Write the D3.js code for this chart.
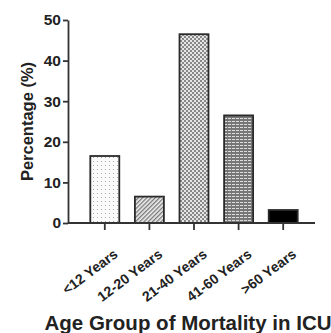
<!DOCTYPE html>
<html>
<head>
<meta charset="utf-8">
<script src="https://cdn.jsdelivr.net/npm/d3@7"></script>
<style>
  body { margin: 0; background: #fff; }
  text { font-family: "Liberation Sans", Arial, sans-serif; font-weight: bold; fill: #222; }
</style>
</head>
<body>
<div id="chart"></div>
<script>
const categories = ['<12 Years', '12-20 Years', '21-40 Years', '41-60 Years', '>60 Years'];
const values = [16.5, 6.5, 46.5, 26.5, 3.2];
const patterns = ['dots', 'hatch', 'check', 'brick', 'solid'];
const yTicks = [0, 10, 20, 30, 40, 50];

const width = 331, height = 333;
const margin = { top: 20, right: 11, bottom: 110, left: 68 };
const axisEnd = 315;

const svg = d3.select('#chart').append('svg')
  .attr('width', width)
  .attr('height', height);

// fill patterns
const defs = svg.append('defs');
const dots = defs.append('pattern').attr('id', 'dots')
  .attr('patternUnits', 'userSpaceOnUse').attr('width', 4).attr('height', 4);
dots.append('rect').attr('width', 4).attr('height', 4).attr('fill', '#fafafa');
dots.append('rect').attr('x', 1).attr('y', 1).attr('width', 1).attr('height', 1).attr('fill', '#aaa');

const hatch = defs.append('pattern').attr('id', 'hatch')
  .attr('patternUnits', 'userSpaceOnUse').attr('width', 3).attr('height', 3)
  .attr('patternTransform', 'rotate(45)');
hatch.append('rect').attr('width', 3).attr('height', 3).attr('fill', '#eee');
hatch.append('rect').attr('width', 1.3).attr('height', 3).attr('fill', '#777');

const check = defs.append('pattern').attr('id', 'check')
  .attr('patternUnits', 'userSpaceOnUse').attr('width', 4).attr('height', 4);
check.append('rect').attr('width', 4).attr('height', 4).attr('fill', '#e6e6e6');
check.append('rect').attr('width', 2).attr('height', 2).attr('fill', '#888');
check.append('rect').attr('x', 2).attr('y', 2).attr('width', 2).attr('height', 2).attr('fill', '#888');

const brick = defs.append('pattern').attr('id', 'brick')
  .attr('patternUnits', 'userSpaceOnUse').attr('width', 4).attr('height', 3);
brick.append('rect').attr('width', 4).attr('height', 3).attr('fill', '#777');
brick.append('rect').attr('x', 0).attr('y', 1).attr('width', 3).attr('height', 1).attr('fill', '#ddd');

const fillFor = p => p === 'solid' ? '#000' : `url(#${p})`;

const x = d3.scaleBand()
  .domain(categories)
  .range([margin.left, width - margin.right])
  .paddingInner(0.35)
  .paddingOuter(0.5);

const y = d3.scaleLinear()
  .domain([0, 50])
  .range([223, 20]);

svg.append('g')
  .selectAll('rect')
  .data(categories)
  .enter()
  .append('rect')
  .attr('x', d => x(d))
  .attr('y', (d, i) => y(values[i]))
  .attr('width', x.bandwidth())
  .attr('height', (d, i) => y(0) - y(values[i]))
  .attr('fill', (d, i) => fillFor(patterns[i]))
  .attr('stroke', '#2a2a2a')
  .attr('stroke-width', 1.8);

// y axis
const yAxis = svg.append('g')
  .attr('transform', `translate(${margin.left},0)`)
  .call(d3.axisLeft(y).tickValues(yTicks).tickSize(5).tickPadding(2).tickSizeOuter(0));
yAxis.selectAll('path, line').attr('stroke', '#333').attr('stroke-width', 1.8);
yAxis.selectAll('text').attr('font-size', 15.5).style('fill', '#222');

// x axis
const xAxis = svg.append('g')
  .attr('transform', `translate(0,${y(0)})`)
  .call(d3.axisBottom(x).tickSize(7).tickSizeOuter(0));
xAxis.select('.domain').attr('d', `M${margin.left},0H${axisEnd}`);
xAxis.selectAll('path, line').attr('stroke', '#333').attr('stroke-width', 1.8);
xAxis.selectAll('text')
  .attr('font-size', 14)
  .style('fill', '#222')
  .attr('text-anchor', 'end')
  .attr('dx', 0)
  .attr('dy', 0)
  .attr('transform', 'translate(8,25) rotate(-37)');

// titles
svg.append('text')
  .attr('transform', `translate(33,${(y(0) + y(50)) / 2}) rotate(-90)`)
  .attr('text-anchor', 'middle')
  .attr('font-size', 16.5)
  .text('Percentage (%)');

svg.append('text')
  .attr('x', 188)
  .attr('y', 330)
  .attr('text-anchor', 'middle')
  .attr('font-size', 20.5)
  .text('Age Group of Mortality in ICU');
</script>
</body>
</html>
